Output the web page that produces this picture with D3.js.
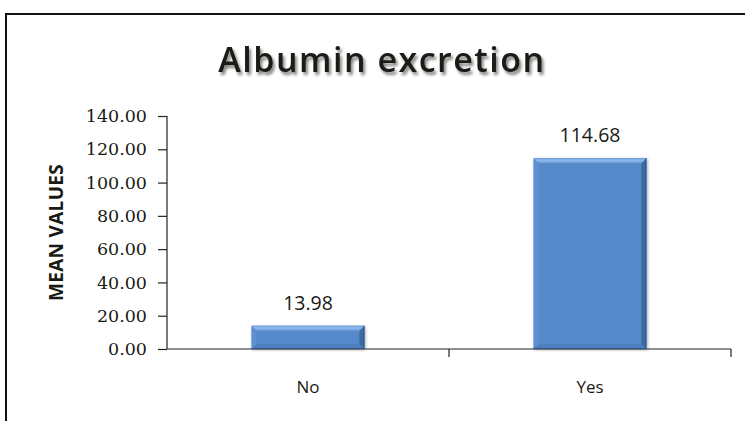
<!DOCTYPE html>
<html>
<head>
<meta charset="utf-8">
<script src="https://cdn.jsdelivr.net/npm/d3@7/dist/d3.min.js"></script>
<style>
  html, body { margin: 0; padding: 0; background: #fff; }
  svg { display: block; }
</style>
</head>
<body>
<svg id="chart" width="745" height="421"></svg>
<script>
// Chart data
const categories = ["No", "Yes"];
const meanValues = [13.98, 114.68];
const valueLabels = ["13.98", "114.68"];
const yTicks = [0, 20, 40, 60, 80, 100, 120, 140];
const chartTitle = "Albumin excretion";
const yAxisTitle = "MEAN VALUES";

const svg = d3.select("#chart");

// Outer frame (runs past the right and bottom edges)
svg.append("rect")
  .attr("x", 6).attr("y", 14)
  .attr("width", 800).attr("height", 500)
  .attr("fill", "#fff")
  .attr("stroke", "#111").attr("stroke-width", 2);

const defs = svg.append("defs");

// soft drop shadow for the title
const f = defs.append("filter").attr("id", "titleShadow")
  .attr("x", "-10%").attr("y", "-30%").attr("width", "120%").attr("height", "170%");
f.append("feGaussianBlur").attr("in", "SourceAlpha").attr("stdDeviation", 1.5).attr("result", "b");
f.append("feOffset").attr("in", "b").attr("dx", 1.5).attr("dy", 2.5).attr("result", "o");
f.append("feComponentTransfer").attr("in", "o").attr("result", "s")
  .append("feFuncA").attr("type", "linear").attr("slope", 0.5);
const m = f.append("feMerge");
m.append("feMergeNode").attr("in", "s");
m.append("feMergeNode").attr("in", "SourceGraphic");

// faint shadow around bars
const bf = defs.append("filter").attr("id", "barShadow")
  .attr("x", "-10%").attr("y", "-10%").attr("width", "125%").attr("height", "125%");
bf.append("feGaussianBlur").attr("in", "SourceAlpha").attr("stdDeviation", 1.8).attr("result", "b");
bf.append("feOffset").attr("in", "b").attr("dx", 0.5).attr("dy", 1).attr("result", "o");
bf.append("feComponentTransfer").attr("in", "o").attr("result", "s")
  .append("feFuncA").attr("type", "linear").attr("slope", 0.3);
const bm = bf.append("feMerge");
bm.append("feMergeNode").attr("in", "s");
bm.append("feMergeNode").attr("in", "SourceGraphic");

// gradient for the top bevel
const tg = defs.append("linearGradient").attr("id", "topBevel")
  .attr("x1", 0).attr("y1", 0).attr("x2", 0).attr("y2", 1);
tg.append("stop").attr("offset", "0%").attr("stop-color", "#6e9fdc");
tg.append("stop").attr("offset", "45%").attr("stop-color", "#8db9ec");
tg.append("stop").attr("offset", "100%").attr("stop-color", "#6a9bd8");

// Title
svg.append("text")
  .attr("x", 382).attr("y", 72)
  .attr("text-anchor", "middle")
  .attr("font-family", "'Open Sans', sans-serif")
  .attr("font-weight", 600)
  .attr("font-size", 34)
  .attr("letter-spacing", 1.5)
  .attr("fill", "#1a1a14")
  .attr("filter", "url(#titleShadow)")
  .text(chartTitle);

// Plot area
const plot = { left: 167, right: 731, top: 116, bottom: 349 };

const x = d3.scaleBand()
  .domain(categories)
  .range([plot.left, plot.right])
  .paddingInner(0.6)
  .paddingOuter(0.3);

const y = d3.scaleLinear()
  .domain([0, 140])
  .range([plot.bottom, plot.top]);

// Y axis
const yAxis = d3.axisLeft(y)
  .tickValues(yTicks)
  .tickSize(9)
  .tickPadding(11)
  .tickFormat(d3.format(".2f"));

const gy = svg.append("g")
  .attr("transform", `translate(${plot.left},0)`)
  .call(yAxis);
gy.select(".domain").attr("stroke", "#222").attr("stroke-width", 1.2)
  .attr("d", `M0,${plot.top}V${plot.bottom}`);
gy.selectAll(".tick line").attr("stroke", "#222").attr("stroke-width", 1.2);
gy.selectAll(".tick text")
  .attr("font-family", "'DejaVu Serif', serif")
  .attr("font-size", 17.5)
  .attr("fill", "#1a1a14");

// X axis line with tick marks between categories
const gx = svg.append("g");
gx.append("line")
  .attr("x1", plot.left).attr("x2", plot.right)
  .attr("y1", plot.bottom).attr("y2", plot.bottom)
  .attr("stroke", "#222").attr("stroke-width", 1.2);
const step = x.step();
const boundaries = categories.map(c => x(c) + x.bandwidth() / 2 + step / 2);
gx.selectAll("line.b").data(boundaries).enter().append("line")
  .attr("class", "b")
  .attr("x1", d => d).attr("x2", d => d)
  .attr("y1", plot.bottom).attr("y2", plot.bottom + 8)
  .attr("stroke", "#222").attr("stroke-width", 1.2);

gx.selectAll("text.cat").data(categories).enter().append("text")
  .attr("class", "cat")
  .attr("x", d => x(d) + x.bandwidth() / 2)
  .attr("y", 393)
  .attr("text-anchor", "middle")
  .attr("font-family", "'Open Sans', sans-serif")
  .attr("font-size", 17)
  .attr("fill", "#1a1a14")
  .text(d => d);

// Y axis title
svg.append("text")
  .attr("transform", `translate(63,${(plot.top + plot.bottom) / 2}) rotate(-90)`)
  .attr("text-anchor", "middle")
  .attr("font-family", "'Open Sans', sans-serif")
  .attr("font-weight", "bold")
  .attr("font-size", 19)
  .attr("letter-spacing", 0.3)
  .attr("fill", "#1a1a14")
  .text(yAxisTitle);

// Bars with bevelled edges
const rows = categories.map((c, i) => ({ c, v: meanValues[i], label: valueLabels[i] }));
const bev = 5;
const bars = svg.append("g").selectAll("g.bar")
  .data(rows)
  .enter().append("g").attr("class", "bar")
  .attr("filter", "url(#barShadow)");

bars.append("rect")
  .attr("x", d => x(d.c))
  .attr("y", d => y(d.v))
  .attr("width", x.bandwidth())
  .attr("height", d => y(0) - y(d.v))
  .attr("fill", "#5589c9");

function poly(pts) { return "M" + pts.map(p => p.join(",")).join("L") + "Z"; }

// bottom bevel
bars.append("path").attr("fill", "#4d7fbe").attr("d", d => {
  const x0 = x(d.c), x1 = x0 + x.bandwidth(), y1 = y(0);
  return poly([[x0, y1], [x0 + bev, y1 - bev], [x1 - bev, y1 - bev], [x1, y1]]);
});
// left bevel
bars.append("path").attr("fill", "#5c90d0").attr("d", d => {
  const x0 = x(d.c), y0 = y(d.v), y1 = y(0);
  return poly([[x0, y0], [x0 + bev, y0 + bev], [x0 + bev, y1 - bev], [x0, y1]]);
});
// right bevel
bars.append("path").attr("fill", "#3e6ba3").attr("d", d => {
  const x1 = x(d.c) + x.bandwidth(), y0 = y(d.v), y1 = y(0);
  return poly([[x1, y0], [x1, y1], [x1 - bev, y1 - bev], [x1 - bev, y0 + bev]]);
});
// top bevel
bars.append("path").attr("fill", "url(#topBevel)").attr("d", d => {
  const x0 = x(d.c), x1 = x0 + x.bandwidth(), y0 = y(d.v);
  return poly([[x0, y0], [x1, y0], [x1 - bev, y0 + bev], [x0 + bev, y0 + bev]]);
});
// thin dark outline along right and bottom edges
bars.append("path")
  .attr("fill", "none").attr("stroke", "#2f5688").attr("stroke-width", 1)
  .attr("d", d => {
    const x0 = x(d.c), x1 = x0 + x.bandwidth(), y0 = y(d.v), y1 = y(0);
    return `M${x1 - 0.5},${y0}V${y1 - 0.5}H${x0}`;
  });

// Value labels above bars
svg.append("g").selectAll("text.val")
  .data(rows)
  .enter().append("text")
  .attr("class", "val")
  .attr("x", d => x(d.c) + x.bandwidth() / 2)
  .attr("y", d => y(d.v) - 16)
  .attr("text-anchor", "middle")
  .attr("font-family", "'Open Sans', sans-serif")
  .attr("font-size", 19.5)
  .attr("fill", "#1a1a14")
  .text(d => d.label);
</script>
</body>
</html>
